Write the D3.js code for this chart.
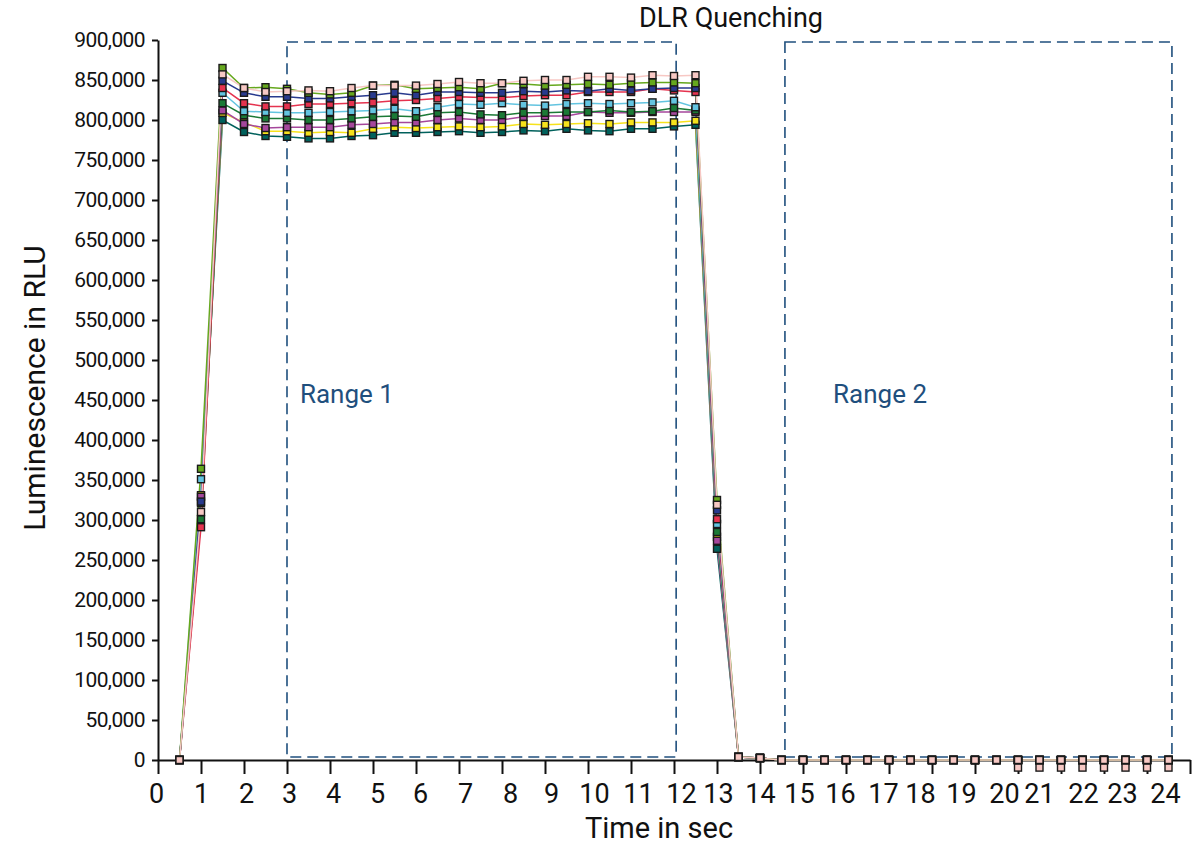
<!doctype html>
<html>
  <head>
    <script src="https://cdnjs.cloudflare.com/ajax/libs/d3/7.8.5/d3.min.js"></script>
    <style>
      body { margin: 0; background: #fff; }
      text { font-family: Roboto, "DejaVu Sans", sans-serif; fill: #111; }
    </style>
  </head>
  <body>
    <svg id="chart" width="1200" height="856"></svg>
    <script>
      // time points in seconds
      var times = [0.5, 1, 1.5, 2, 2.5, 3, 3.5, 4, 4.5, 5, 5.5, 6, 6.5, 7, 7.5, 8, 8.5, 9, 9.5, 10,
        10.5, 11, 11.5, 12, 12.5, 13, 13.5, 14, 14.5, 15, 15.5, 16, 16.5, 17, 17.5, 18, 18.5, 19,
        19.5, 20, 20.5, 21, 21.5, 22, 22.5, 23, 23.5];

      // luminescence in RLU, one array per well
      var teal = [0, 321000, 800000, 785000, 780000, 779000, 777000, 777000, 780000, 781000, 784000, 784000,
        785000, 786000, 784000, 785000, 787000, 786000, 789000, 787000, 786000, 789000, 789000, 792000, 794000,
        264000, 3750, 2500, 0, 0, 0, 0, 0, 0, 0, 0, 0, 0, 0, 0, 0, 0, 0, 0, 0, 0, 0];
      var yellow = [0, 331000, 809000, 797000, 786000, 786000, 784000, 785000, 784000, 789000, 791000, 790000,
        791000, 792000, 791000, 792000, 795000, 794000, 795000, 796000, 795000, 797000, 797000, 797000, 799000,
        279000, 3750, 2500, 0, 0, 0, 0, 0, 0, 0, 0, 0, 0, 0, 0, 0, 0, 0, 0, 0, 0, 0];
      var purple = [0, 329000, 812000, 795000, 790000, 791000, 791000, 791000, 794000, 795000, 797000, 797000,
        800000, 802000, 800000, 800000, 804000, 805000, 805000, 810000, 809000, 809000, 810000, 810000, 810000,
        274000, 3750, 2500, 0, 0, 0, 0, 0, 0, 0, 0, 0, 0, 0, 0, 0, 0, 0, 0, 0, 0, 0];
      var darkGreen = [0, 301000, 821000, 806000, 802000, 802000, 800000, 800000, 802000, 804000, 805000, 804000,
        809000, 810000, 807000, 806000, 809000, 809000, 810000, 810000, 812000, 810000, 811000, 815000, 812000,
        285000, 3750, 2500, 0, 0, 0, 0, 0, 0, 0, 0, 0, 0, 0, 0, 0, 0, 0, 0, 0, 0, 0];
      var lightBlue = [0, 351000, 834000, 811000, 810000, 809000, 809000, 810000, 811000, 812000, 814000, 811000,
        816000, 820000, 819000, 821000, 819000, 818000, 820000, 821000, 820000, 821000, 822000, 824000, 816000,
        295000, 3750, 2500, 0, 0, 0, 0, 0, 0, 0, 0, 0, 0, 0, 0, 0, 0, 0, 0, 0, 0, 0];
      var red = [0, 291000, 840000, 821000, 817000, 817000, 820000, 820000, 821000, 822000, 824000, 825000,
        827000, 829000, 828000, 828000, 830000, 831000, 831000, 835000, 835000, 835000, 839000, 837000, 835000,
        301000, 3750, 2500, 0, 0, 0, 0, 0, 0, 0, 0, 0, 0, 0, 0, 0, 0, 0, 0, 0, 0, 0];
      var blue = [0, 323000, 849000, 834000, 829000, 829000, 827000, 827000, 829000, 831000, 834000, 831000,
        835000, 835000, 834000, 834000, 836000, 835000, 837000, 836000, 839000, 837000, 839000, 840000, 840000,
        312000, 3750, 2500, 0, 0, 0, 0, 0, 0, 0, 0, 0, 0, 0, 0, 0, 0, 0, 0, 0, 0, 0];
      var green = [0, 364000, 865000, 840000, 841000, 839000, 834000, 832000, 834000, 843000, 844000, 839000,
        840000, 841000, 839000, 846000, 845000, 843000, 844000, 845000, 844000, 846000, 847000, 847000, 846000,
        325000, 3750, 2500, 0, 0, 0, 0, 0, 0, 0, 0, 0, 0, 0, 0, 0, 0, 0, 0, 0, 0, 0];
      var pink = [0, 310000, 857000, 840000, 835000, 836000, 837000, 836000, 840000, 843000, 843000, 843000,
        845000, 847500, 846000, 846000, 849000, 850000, 850000, 854000, 854000, 853000, 856000, 855000, 856000,
        319000, 3750, 2500, 0, 0, 0, 0, 0, 0, 0, 0, 0, 0, 0, 0, 0, 0, 0, 0, 0, 0, 0];

      // stray readings just below zero at the end of the run (markers only)
      var strayTimes = [20, 20.5, 21, 21.5, 22, 22.5, 23, 23.5];
      var strayValues = [-9500, -9500, -9500, -9500, -9500, -9500, -9500, -9500];

      var seriesNames = ["teal", "yellow", "purple", "darkGreen", "lightBlue", "red", "blue", "green", "pink"];
      var seriesValues = [teal, yellow, purple, darkGreen, lightBlue, red, blue, green, pink];

      var xTicks = [0, 1, 2, 3, 4, 5, 6, 7, 8, 9, 10, 11, 12, 13, 14, 15, 16, 17, 18, 19, 20, 21, 22, 23, 24];
      var yTicks = [0, 50000, 100000, 150000, 200000, 250000, 300000, 350000, 400000, 450000, 500000,
        550000, 600000, 650000, 700000, 750000, 800000, 850000, 900000];

      var rangeNames = ["Range 1", "Range 2"];
      var rangeStart = [3, 14.58];
      var rangeEnd = [12.05, 23.58];
      var rangeTop = 897500;
      var rangeBottom = 3750;
      var rangeLabelTime = [3.3, 15.7];
      var rangeLabelValue = 458000;

      var color = d3.scaleOrdinal()
        .domain(seriesNames)
        .range(["#00615c", "#f6e21c", "#a5479c", "#1b7a36", "#63c4e0", "#e5334f", "#283a8e", "#66a81e", "#f7c8c4"]);

      var svg = d3.select("#chart");
      var x = d3.scaleLinear().domain([0, 24]).range([158, 1190]);
      var y = d3.scaleLinear().domain([0, 900000]).range([760, 40]);

      // label drift of the original x axis (layout only)
      var xLabelNudge = [-2, 0, 2, 2, 3, 4, 4, 6, 8, 6, 6, 7, 7, 1, 0, -4, -6, -6, -12, -14, -14, -22, -21, -25, -25];

      // range boxes
      svg.selectAll("rect.range")
        .data(rangeNames)
        .enter()
        .append("rect")
          .attr("class", "range")
          .attr("x", (d, i) => x(rangeStart[i]))
          .attr("y", y(rangeTop))
          .attr("width", (d, i) => x(rangeEnd[i]) - x(rangeStart[i]))
          .attr("height", y(rangeBottom) - y(rangeTop))
          .style("fill", "none")
          .style("stroke", "#1f4f7d")
          .style("stroke-width", 1.6)
          .style("stroke-dasharray", "11,6");

      svg.selectAll("text.rangeLabel")
        .data(rangeNames)
        .enter()
        .append("text")
          .attr("class", "rangeLabel")
          .attr("x", (d, i) => x(rangeLabelTime[i]))
          .attr("y", y(rangeLabelValue))
          .attr("dy", "0.35em")
          .style("font-size", "26px")
          .style("fill", "#1f4f7d")
          .text(d => d);

      // axes
      var yAxis = d3.axisLeft(y)
        .tickValues(yTicks)
        .tickFormat(d3.format(","))
        .tickSize(6)
        .tickSizeOuter(0)
        .tickPadding(7);

      var xAxis = d3.axisBottom(x)
        .tickValues(xTicks)
        .tickFormat(d3.format("d"))
        .tickSize(14)
        .tickSizeOuter(0)
        .tickPadding(10);

      var gy = svg.append("g")
        .attr("transform", "translate(" + x(0) + ",0)")
        .call(yAxis);
      gy.selectAll("text")
        .style("font-size", "21px")
        .style("letter-spacing", "-0.6px")
        .style("fill", "#111");

      var gx = svg.append("g")
        .attr("transform", "translate(0," + y(0) + ")")
        .call(xAxis);
      gx.selectAll("text")
        .attr("dx", (d, i) => xLabelNudge[i])
        .style("font-size", "27px")
        .style("fill", "#111");

      svg.selectAll(".domain, .tick line")
        .style("stroke", "#111")
        .style("stroke-width", 2);

      // lines
      var line = d3.line()
        .x((d, i) => x(times[i]))
        .y(d => y(d));

      svg.selectAll("path.series")
        .data(seriesValues)
        .enter()
        .append("path")
          .attr("class", "series")
          .attr("d", line)
          .style("fill", "none")
          .style("stroke", (d, i) => color(seriesNames[i]))
          .style("stroke-width", 1.5);

      // markers
      var markerSize = 7;
      seriesValues.forEach(function(vals, k) {
        svg.append("g")
          .selectAll("rect")
          .data(vals)
          .enter()
          .append("rect")
            .attr("x", (d, i) => x(times[i]) - markerSize / 2)
            .attr("y", d => y(d) - markerSize / 2)
            .attr("width", markerSize)
            .attr("height", markerSize)
            .style("fill", color(seriesNames[k]))
            .style("stroke", "#1a1a1a")
            .style("stroke-width", 1.4);
      });

      svg.append("g")
        .selectAll("rect")
        .data(strayValues)
        .enter()
        .append("rect")
          .attr("x", (d, i) => x(strayTimes[i]) - markerSize / 2)
          .attr("y", d => y(d) - markerSize / 2)
          .attr("width", markerSize)
          .attr("height", markerSize)
          .style("fill", color("pink"))
          .style("stroke", "#1a1a1a")
          .style("stroke-width", 1.4);

      // titles
      svg.append("text")
        .attr("x", 731)
        .attr("y", 27)
        .attr("text-anchor", "middle")
        .style("font-size", "27px")
        .text("DLR Quenching");

      svg.append("text")
        .attr("transform", "translate(45,388) rotate(-90)")
        .attr("text-anchor", "middle")
        .style("font-size", "30px")
        .text("Luminescence in RLU");

      svg.append("text")
        .attr("x", 659)
        .attr("y", 838)
        .attr("text-anchor", "middle")
        .style("font-size", "29px")
        .text("Time in sec");
    </script>
  </body>
</html>
